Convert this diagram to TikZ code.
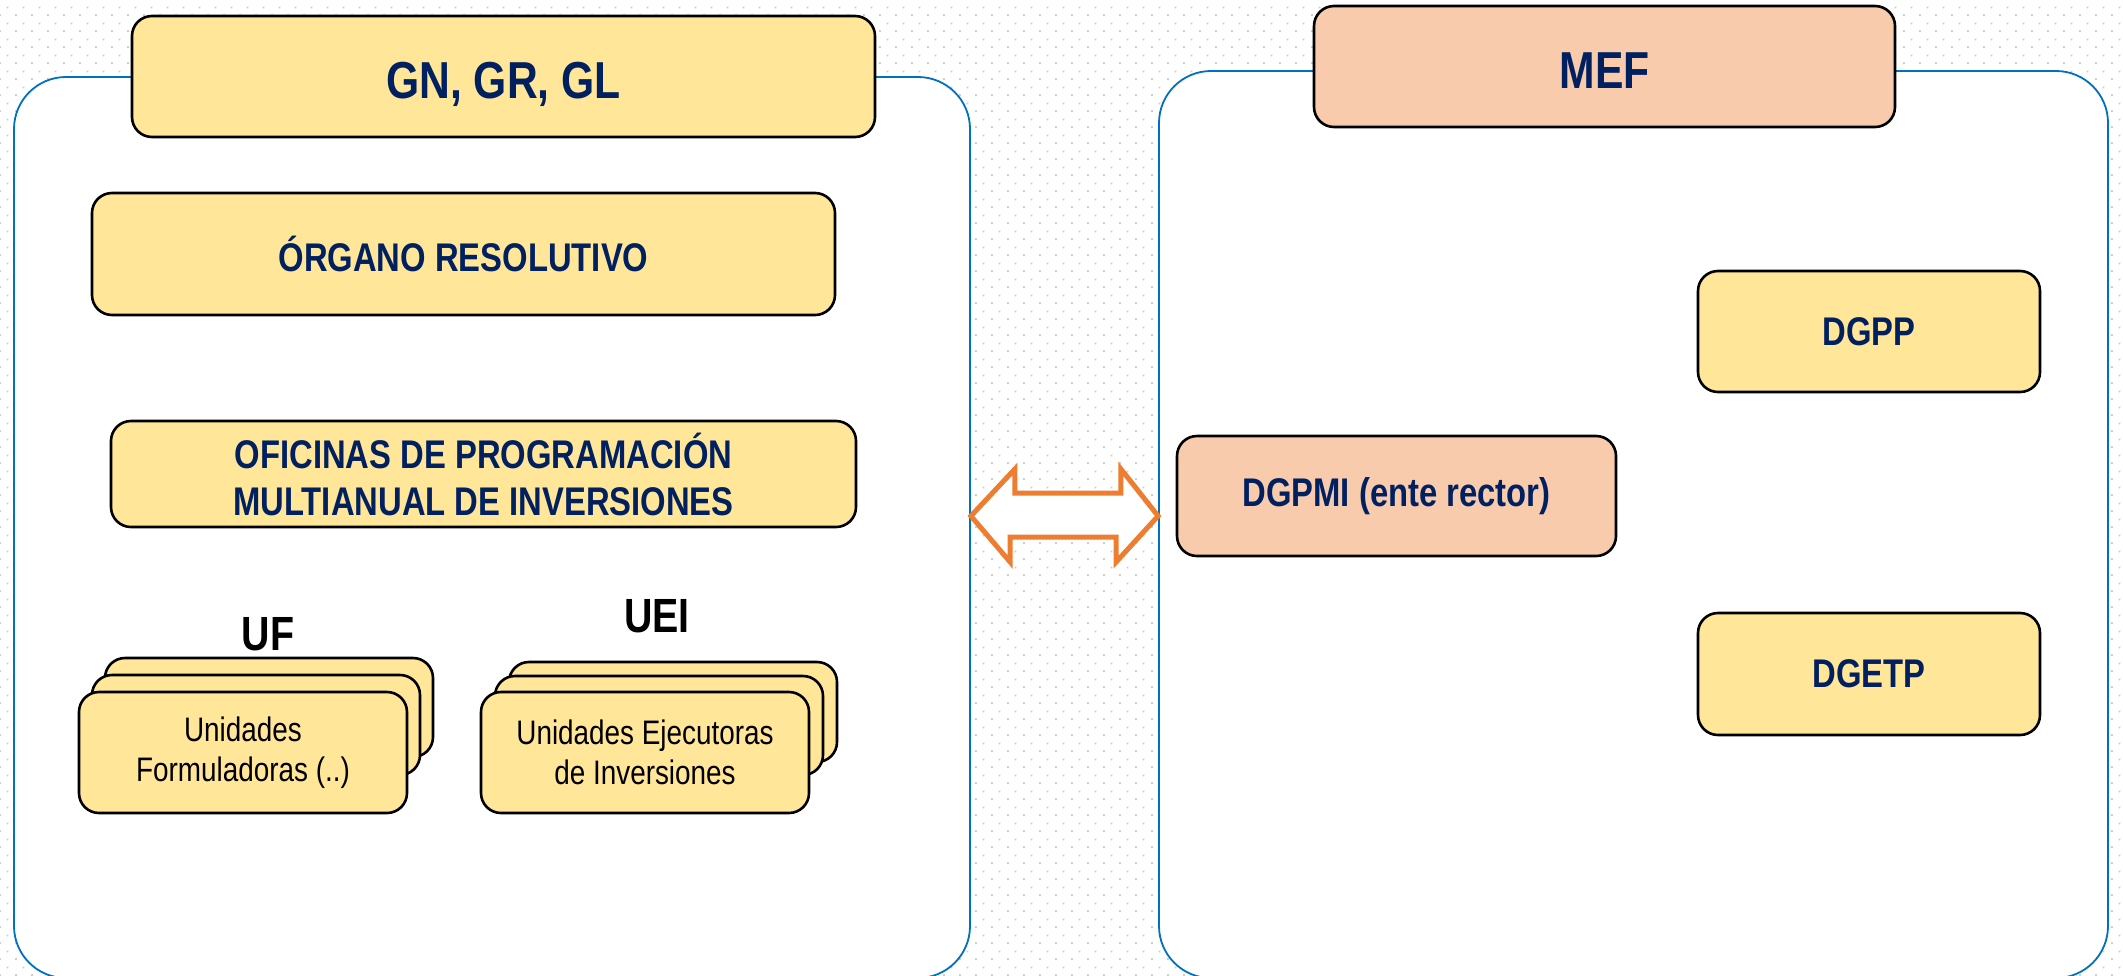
\documentclass[tikz,border=0pt]{standalone}
\usepackage{fontspec}
\setmainfont{Liberation Sans}[FakeStretch=0.82]
\usetikzlibrary{patterns}
\definecolor{navy}{HTML}{002060}
\definecolor{boxyellow}{HTML}{FFE699}
\definecolor{peach}{HTML}{F8CBAD}
\definecolor{cblue}{HTML}{0070C0}
\definecolor{arroworange}{HTML}{ED7D31}
\definecolor{dotgray}{RGB}{205,205,205}
\pgfdeclarepatternformonly{bgdots}{\pgfpoint{0pt}{0pt}}{\pgfpoint{8pt}{8pt}}{\pgfpoint{8pt}{8pt}}{%
  \pgfpathrectangle{\pgfpoint{0pt}{0pt}}{\pgfpoint{1pt}{1pt}}%
  \pgfpathrectangle{\pgfpoint{4pt}{4pt}}{\pgfpoint{1pt}{1pt}}%
  \pgfusepath{fill}%
}
\newcommand\titlefnt{\fontsize{26}{31}\selectfont\bfseries}
\newcommand\boxfnt{\fontsize{20}{23.5}\selectfont\bfseries}
\newcommand\stackfnt{\fontsize{17}{20}\selectfont}
\newcommand\lblfnt{\fontsize{24}{28}\selectfont\bfseries}
\tikzset{
  container/.style={rectangle, draw=cblue, line width=0.9pt, fill=white, rounded corners=26pt, inner sep=0pt},
  ybox/.style={rectangle, draw=black, line width=1.3pt, fill=boxyellow, rounded corners=10pt, inner sep=0pt, align=center, text=navy, font=\boxfnt},
  pbox/.style={ybox, fill=peach},
  titlebox/.style={font=\titlefnt, text height=21.6pt, text depth=0pt},
  stackbox/.style={ybox, text=black, font=\stackfnt, minimum width=164pt},
  stacklabel/.style={font=\lblfnt, text=black, inner sep=0pt},
  blockarrow/.style={draw=arroworange, line width=2.5pt, fill=white, line join=miter}
}
\begin{document}
\begin{tikzpicture}[x=0.5pt, y=-0.5pt]
\useasboundingbox (0,0) rectangle (2123,975);
\clip (0,0) rectangle (2123,975);
\fill[white] (0,0) rectangle (2123,975);
\fill[pattern=bgdots, pattern color=dotgray] (0,0) rectangle (2123,975);

% containers
\node[container, minimum width=478pt, minimum height=450.5pt] (left) at (492,527.5) {};
\node[container, minimum width=474.5pt, minimum height=453.5pt] (right) at (1633.5,524.5) {};

% left side
\node[ybox, titlebox, minimum width=371.5pt, minimum height=60.5pt] (gn) at (503.5,76.5) {GN, GR, GL};
\node[ybox, minimum width=371.5pt, minimum height=61pt] (organo) at (463.5,254) {ÓRGANO RESOLUTIVO};
\node[ybox, minimum width=372.5pt, minimum height=53pt] (opmi) at (483.5,474) {OFICINAS DE PROGRAMACIÓN\\MULTIANUAL DE INVERSIONES};

\node[stacklabel] (uflabel) at (268,634) {UF};
\node[stacklabel] (ueilabel) at (657,616) {UEI};

\node[stackbox, minimum height=49.5pt] (ufback) at (269,707.5) {};
\node[stackbox, minimum height=50pt] (ufmid) at (256,725) {};
\node[stackbox, minimum height=60.5pt] (uf) at (243,752.5) {Unidades\\Formuladoras (..)};

\node[stackbox, minimum height=50pt] (ueiback) at (673,712) {};
\node[stackbox, minimum height=49.5pt] (ueimid) at (659,725.5) {};
\node[stackbox, minimum height=60.5pt] (uei) at (645,752.5) {Unidades Ejecutoras\\de Inversiones};

% right side
\node[pbox, titlebox, minimum width=290.5pt, minimum height=60.5pt] (mef) at (1604.5,66.5) {MEF};
\node[pbox, minimum width=219.5pt, minimum height=60pt] (dgpmi) at (1396.5,496) {DGPMI (ente rector)};
\node[ybox, minimum width=171pt, minimum height=60.5pt] (dgpp) at (1869,331.5) {DGPP};
\node[ybox, minimum width=171pt, minimum height=61pt] (dgetp) at (1869,674) {DGETP};

% double block arrow between the two containers
\coordinate (aL) at (left.east |- 0,516);
\coordinate (aR) at (right.west |- 0,516);
\draw[blockarrow] (aL) -- ++(44,-47) -- ++(0,24) -- ++(106,0) -- ++(0,-24) -- (aR)
  -- ++(-42,46) -- ++(0,-25) -- ++(-106,0) -- ++(0,25) -- cycle;
\end{tikzpicture}
\end{document}
